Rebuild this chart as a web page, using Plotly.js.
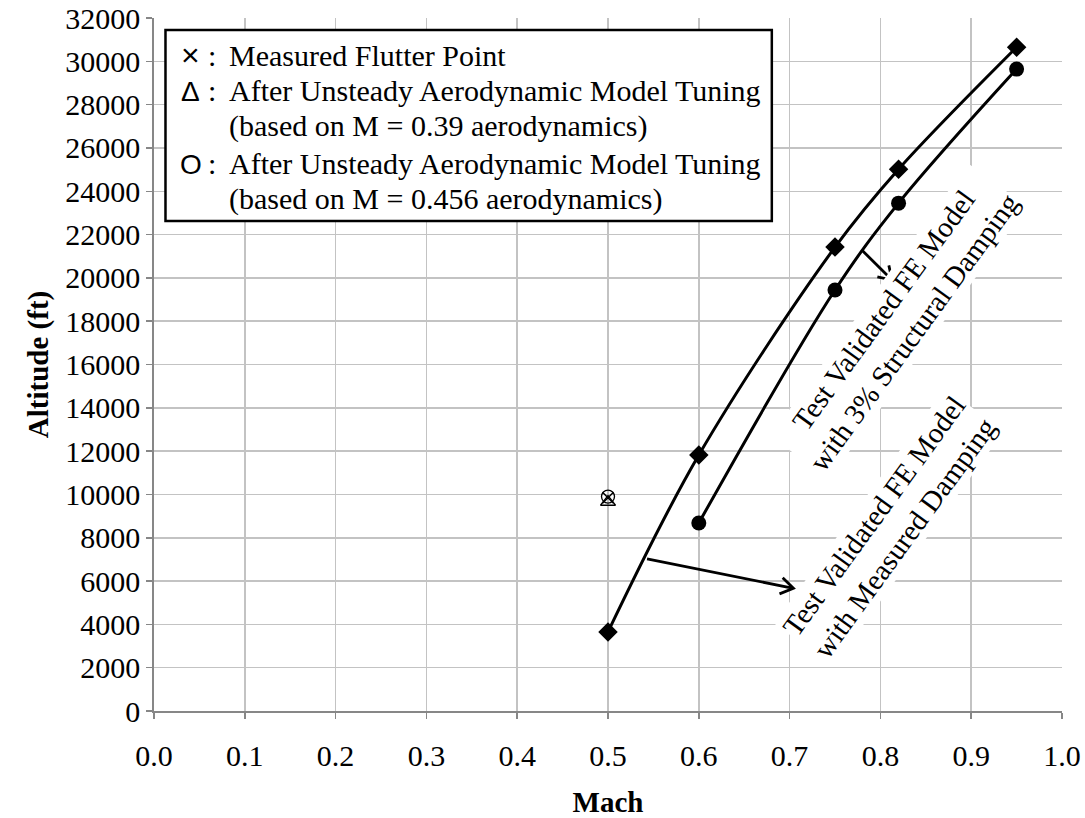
<!DOCTYPE html>
<html>
<head>
<meta charset="utf-8">
<script src="https://cdn.plot.ly/plotly-3.0.1.min.js"></script>
<style>html,body{margin:0;padding:0;background:#fff;}</style>
</head>
<body>
<div id="chart" style="width:1085px;height:818px;"></div>
<script>
// ---- data ----
const measuredDampingMach = [0.5, 0.6, 0.75, 0.82, 0.95];
const measuredDampingAlt  = [3650, 11820, 21420, 25020, 30650];
const structDampingMach   = [0.6, 0.75, 0.82, 0.95];
const structDampingAlt    = [8680, 19440, 23450, 29640];
const flutterMach = [0.5];
const flutterAlt  = [9850];
const tune039Mach = [0.5];
const tune039Alt  = [9650];
const tune0456Mach = [0.5];
const tune0456Alt  = [9900];
const xTickVals = [0,0.1,0.2,0.3,0.4,0.5,0.6,0.7,0.8,0.9,1.0];
const yTickVals = [0,2000,4000,6000,8000,10000,12000,14000,16000,18000,20000,22000,24000,26000,28000,30000,32000];
const legendSymbols = ['×', 'Δ', '', 'O', ''];
const legendLines = [
  'Measured Flutter Point',
  'After Unsteady Aerodynamic Model Tuning',
  '(based on M = 0.39 aerodynamics)',
  'After Unsteady Aerodynamic Model Tuning',
  '(based on M = 0.456 aerodynamics)'
];
const curveLabels = [
  {text: 'Test Validated FE Model<br>with 3% Structural Damping', x: 0.8206, y: 17990},
  {text: 'Test Validated FE Model<br>with Measured Damping', x: 0.8097, y: 8500}
];
// arrows: [tailMach, tailAlt, headMach, headAlt]
const arrows = [
  [0.543, 7020, 0.7042, 5666],
  [0.7795, 21287, 0.8128, 19902]
];

const SERIF = 'Liberation Serif';
const SANS = 'Liberation Sans';

// plot geometry (pixels)
const W = 1085, H = 818, ML = 153.5, MR = 22.5, MT = 18, MB = 107;
const PW = W - ML - MR, PH = H - MT - MB;
const XR = [0, 1], YR = [0, 32000];
const px2paperX = (p) => (p - ML) / PW;
const px2paperY = (p) => (H - MB - p) / PH;

const traces = [
  {x: measuredDampingMach, y: measuredDampingAlt, mode: 'lines+markers', line: {color: '#000', width: 3, shape: 'spline', smoothing: 1},
   marker: {symbol: 'diamond', size: 15, color: '#000'}, showlegend: false, hoverinfo: 'skip'},
  {x: structDampingMach, y: structDampingAlt, mode: 'lines+markers', line: {color: '#000', width: 3, shape: 'spline', smoothing: 1},
   marker: {symbol: 'circle', size: 15, color: '#000'}, showlegend: false, hoverinfo: 'skip'},
  {x: tune039Mach, y: tune039Alt, mode: 'markers', marker: {symbol: 'triangle-up-open', size: 13, color: '#000', line: {width: 1.3, color: '#000'}}, showlegend: false},
  {x: tune0456Mach, y: tune0456Alt, mode: 'markers', marker: {symbol: 'circle-open', size: 13, color: '#000', line: {width: 1.3, color: '#000'}}, showlegend: false},
  {x: flutterMach, y: flutterAlt, mode: 'markers', marker: {symbol: 'x-thin-open', size: 11, color: '#000', line: {width: 1.5, color: '#000'}}, showlegend: false}
];

const annotations = [];
const shapes = [];

// legend box
shapes.push({type: 'rect', xref: 'paper', yref: 'paper', layer: 'above',
  x0: px2paperX(165), x1: px2paperX(772), y0: px2paperY(221), y1: px2paperY(30),
  line: {color: '#000', width: 2.5}, fillcolor: '#fff'});
const legendY = [55, 91, 126, 163, 198.5];
legendLines.forEach((t, i) => {
  annotations.push({xref: 'paper', yref: 'paper', x: px2paperX(227), y: px2paperY(legendY[i]), xanchor: 'left', yanchor: 'middle',
    showarrow: false, text: t, font: {family: SERIF, size: 30, color: '#000'}});
  if (legendSymbols[i]) {
    annotations.push({xref: 'paper', yref: 'paper', x: px2paperX(190.5), y: px2paperY(legendY[i] + (i === 0 ? 0 : 1)), xanchor: 'center', yanchor: 'middle',
      showarrow: false, text: legendSymbols[i], font: {family: SANS, size: i === 0 ? 32 : 28, color: '#000'}});
    annotations.push({xref: 'paper', yref: 'paper', x: px2paperX(212), y: px2paperY(legendY[i]), xanchor: 'center', yanchor: 'middle',
      showarrow: false, text: ':', font: {family: SERIF, size: 30, color: '#000'}});
  }
});

// curve labels
curveLabels.forEach(c => {
  annotations.push({xref: 'x', yref: 'y', x: c.x, y: c.y, text: c.text, showarrow: false, textangle: -54,
    font: {family: SERIF, size: 29, color: '#000'}, bgcolor: '#fff', borderpad: 1});
});

// arrows as shapes (line + open V head); head arms computed in pixel space
const sx = PW / (XR[1] - XR[0]), sy = PH / (YR[1] - YR[0]);
arrows.forEach(a => {
  const [x0, y0, x1, y1] = a;
  const dxp = (x1 - x0) * sx, dyp = -(y1 - y0) * sy;
  const L = Math.hypot(dxp, dyp), ux = dxp / L, uy = dyp / L;
  const arm = 15, ang = 33 * Math.PI / 180;
  const pts = [ang, -ang].map(t => {
    const bx = -ux * Math.cos(t) + uy * Math.sin(t);
    const by = -uy * Math.cos(t) - ux * Math.sin(t);
    return [x1 + bx * arm / sx, y1 - by * arm / sy];
  });
  shapes.push({type: 'path', xref: 'x', yref: 'y', layer: 'above', line: {color: '#000', width: 2.8},
    path: `M${x0},${y0} L${x1},${y1} M${pts[0][0]},${pts[0][1]} L${x1},${y1} L${pts[1][0]},${pts[1][1]}`});
});

const axisCommon = {
  showgrid: true, gridcolor: '#c3c3c3', gridwidth: 1.5,
  showline: true, linecolor: '#878787', linewidth: 1.8,
  ticks: 'outside', ticklen: 6, tickcolor: '#878787', tickwidth: 1.5,
  zeroline: false, tickfont: {family: SERIF, size: 30, color: '#000'}
};

const layout = {
  width: W, height: H,
  font: {family: SERIF, size: 30, color: '#000'},
  margin: {l: ML, r: MR, t: MT, b: MB},
  paper_bgcolor: '#fff', plot_bgcolor: '#fff',
  showlegend: false,
  xaxis: Object.assign({}, axisCommon, {range: XR, tickvals: xTickVals, tickformat: '.1f', ticklabelstandoff: 11,
    title: {text: '<b>Mach</b>', font: {family: SERIF, size: 29, color: '#000'}, standoff: 30}}),
  yaxis: Object.assign({}, axisCommon, {range: YR, tickvals: yTickVals, tickformat: 'd', ticklabelstandoff: 10.5,
    title: {text: '<b>Altitude (ft)</b>', font: {family: SERIF, size: 29, color: '#000'}, standoff: 8}}),
  shapes: shapes,
  annotations: annotations
};

Plotly.newPlot('chart', traces, layout, {displayModeBar: false, staticPlot: true});
</script>
</body>
</html>
